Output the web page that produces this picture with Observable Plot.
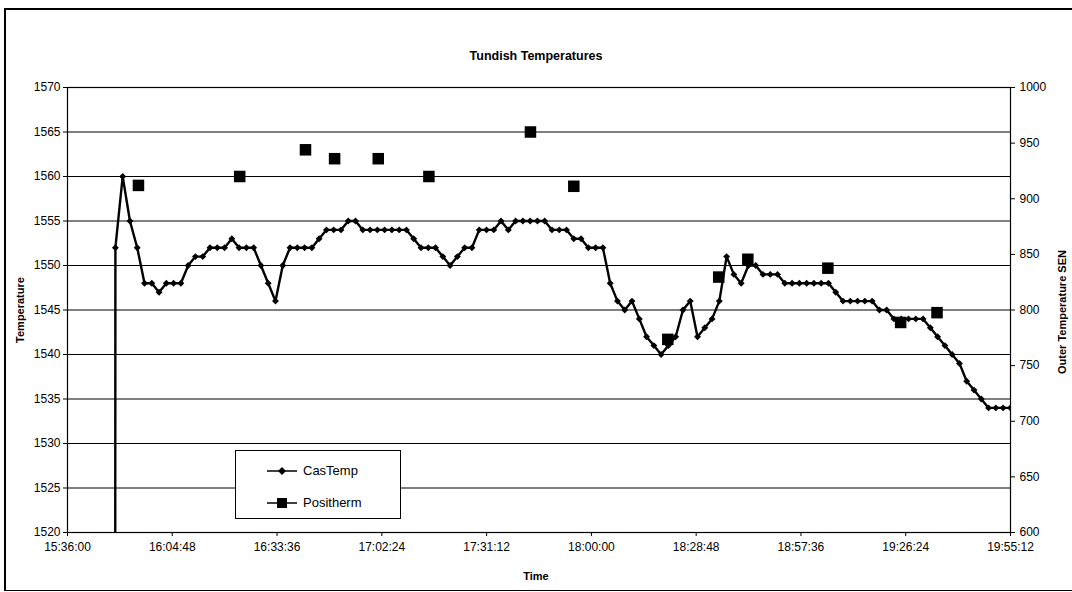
<!DOCTYPE html>
<html>
<head>
<meta charset="utf-8">
<script src="https://cdn.jsdelivr.net/npm/d3@7"></script>
<script src="https://cdn.jsdelivr.net/npm/@observablehq/plot@0.6"></script>
<style>
  html, body { margin: 0; padding: 0; background: #fff; }
  #wrap { position: relative; width: 1072px; height: 592px; overflow: hidden;
          font-family: "Liberation Sans", Arial, sans-serif; color: #000; }
  #frame { position: absolute; left: 4px; top: 8px; width: 1090px; height: 580px;
           border-left: 2px solid #000; border-top: 2px solid #000; border-bottom: 1px solid #000; }
  #chart { position: absolute; left: 0; top: 0; }
  .lbl { position: absolute; font-weight: bold; white-space: nowrap; }
  #title { left: 0; width: 1072px; top: 49px; text-align: center; font-size: 12.5px; }
  #xlabel { left: 0; width: 1072px; top: 570px; text-align: center; font-size: 11px; }
  #ylabel { left: 20px; top: 310px; font-size: 11px; transform: translate(-50%, -50%) rotate(-90deg); }
  #y2label { left: 1062px; top: 312px; font-size: 11px; transform: translate(-50%, -50%) rotate(-90deg); }
  #legend { position: absolute; left: 235px; top: 450px; width: 164px; height: 67px;
            border: 1px solid #000; background: #fff; font-size: 13px; }
  .item { position: absolute; left: 0; height: 20px; width: 164px; }
  .item svg { position: absolute; left: 30px; top: 0; }
  .item span { position: absolute; left: 67px; top: 2px; }
</style>
</head>
<body>
<div id="wrap">
  <div id="frame"></div>
  <div id="chart"></div>
  <div id="title" class="lbl">Tundish Temperatures</div>
  <div id="xlabel" class="lbl">Time</div>
  <div id="ylabel" class="lbl">Temperature</div>
  <div id="y2label" class="lbl">Outer Temperature SEN</div>
  <div id="legend">
    <div class="item" style="top:10px">
      <svg width="32" height="20"><line x1="1" y1="10" x2="31" y2="10" stroke="#000" stroke-width="1.5"/><path d="M16,6 L20,10 L16,14 L12,10 Z" fill="#000"/></svg>
      <span>CasTemp</span>
    </div>
    <div class="item" style="top:42px">
      <svg width="32" height="20"><line x1="1" y1="10" x2="31" y2="10" stroke="#000" stroke-width="1.5"/><rect x="11" y="5" width="10" height="10" fill="#000"/></svg>
      <span>Positherm</span>
    </div>
  </div>
</div>
<script>
// ---- Data ----
const xTickLabels = ["15:36:00", "16:04:48", "16:33:36", "17:02:24", "17:31:12",
                     "18:00:00", "18:28:48", "18:57:36", "19:26:24", "19:55:12"];
const leftTicks = [1520, 1525, 1530, 1535, 1540, 1545, 1550, 1555, 1560, 1565, 1570];
const rightTicks = [600, 650, 700, 750, 800, 850, 900, 950, 1000];

// CasTemp: one reading every 2 minutes; the first reading is a zero (drops off the chart)
const casTempStart = "15:47:10";
const casTempStepMinutes = 2;
const casTemp = [
  0,
  1552, 1560, 1555, 1552, 1548, 1548, 1547, 1548, 1548, 1548,
  1550, 1551, 1551, 1552, 1552, 1552, 1553, 1552, 1552, 1552,
  1550, 1548, 1546, 1550, 1552, 1552, 1552, 1552, 1553, 1554,
  1554, 1554, 1555, 1555, 1554, 1554, 1554, 1554, 1554, 1554,
  1554, 1553, 1552, 1552, 1552, 1551, 1550, 1551, 1552, 1552,
  1554, 1554, 1554, 1555, 1554, 1555, 1555, 1555, 1555, 1555,
  1554, 1554, 1554, 1553, 1553, 1552, 1552, 1552, 1548, 1546,
  1545, 1546, 1544, 1542, 1541, 1540, 1541, 1542, 1545, 1546,
  1542, 1543, 1544, 1546, 1551, 1549, 1548, 1550, 1550, 1549,
  1549, 1549, 1548, 1548, 1548, 1548, 1548, 1548, 1548, 1547,
  1546, 1546, 1546, 1546, 1546, 1545, 1545, 1544, 1544, 1544,
  1544, 1544, 1543, 1542, 1541, 1540, 1539, 1537, 1536, 1535,
  1534, 1534, 1534, 1534
];

const positherm = [
  ["15:55:30", 1559.0], ["16:23:20", 1560.0], ["16:41:25", 1563.0], ["16:49:25", 1562.0],
  ["17:01:25", 1562.0], ["17:15:20", 1560.0], ["17:43:15", 1565.0], ["17:55:10", 1558.9],
  ["18:21:00", 1541.7], ["18:35:00", 1548.7], ["18:43:00", 1550.7], ["19:05:00", 1549.7],
  ["19:25:00", 1543.6], ["19:35:00", 1544.7]
];

// ---- Build ----
const parseT = s => new Date("2000-01-01T" + s + "Z");
const t0 = parseT(casTempStart);
const casData = casTemp.map((v, i) => ({time: new Date(+t0 + i * casTempStepMinutes * 60000), temp: v}));
const posData = positherm.map(([t, v]) => ({time: parseT(t), temp: v}));
const xTicks = xTickLabels.map(parseT);

// right axis (600..1000) shares the plot height with left axis (1520..1570)
const toLeft = r => 1520 + (r - 600) * (50 / 400);
const fromLeft = l => 600 + (l - 1520) * (400 / 50);

const chart = Plot.plot({
  width: 1072,
  height: 592,
  marginTop: 87,
  marginBottom: 60,
  marginLeft: 67,
  marginRight: 62,
  style: {fontFamily: "'Liberation Sans', Arial, sans-serif", fontSize: "12px", background: "transparent", color: "#000"},
  x: {type: "utc", domain: [xTicks[0], xTicks[xTicks.length - 1]]},
  y: {domain: [1520, 1570]},
  marks: [
    Plot.gridY(leftTicks, {stroke: "#000", strokeOpacity: 1, strokeWidth: 1}),
    Plot.axisY(leftTicks, {anchor: "left", tickSize: 4, tickPadding: 3, tickFormat: d => String(d), label: null}),
    Plot.axisY(rightTicks.map(toLeft), {anchor: "right", tickSize: 4, tickPadding: 5,
      tickFormat: v => String(Math.round(fromLeft(v))), label: null}),
    Plot.axisX(xTicks, {tickSize: 4, tickPadding: 6, tickFormat: d3.utcFormat("%H:%M:%S"), label: null}),
    Plot.frame({stroke: "#000", strokeWidth: 1.2}),
    Plot.line(casData, {x: "time", y: "temp", stroke: "#000", strokeWidth: 2.4, clip: true}),
    Plot.dot(casData, {x: "time", y: "temp", symbol: "diamond2", r: 3.1, fill: "#000", clip: true}),
    Plot.dot(posData, {x: "time", y: "temp", symbol: "square", r: 6.5, fill: "#000"})
  ]
});
document.getElementById("chart").appendChild(chart);
</script>
</body>
</html>
